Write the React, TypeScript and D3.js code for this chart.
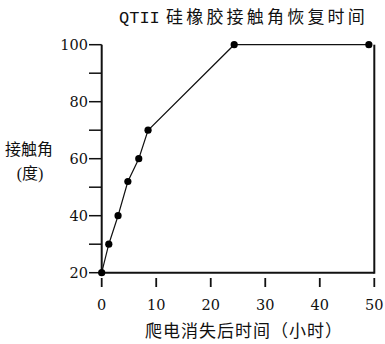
import React from "react";
import * as d3 from "d3";

const hours = [0, 1.3, 3, 4.8, 6.8, 8.5, 24.3, 49];
const angles = [20, 30, 40, 52, 60, 70, 100, 100];
const xTicks = [0, 10, 20, 30, 40, 50];
const yTicks = [20, 30, 40, 50, 60, 70, 80, 90, 100];
const yLabels = [20, 40, 60, 80, 100];
const titleLatin = "QTII ";
const titleCjk = "硅橡胶接触角恢复时间";
const xTitle = "爬电消失后时间（小时）";
const yTitle1 = "接触角";
const yTitle2 = "(度)";

export default function App() {
  const x = d3.scaleLinear().domain([0, 50]).range([101.7, 374.3]);
  const y = d3.scaleLinear().domain([20, 100]).range([272.7, 44.7]);
  const line = d3
    .line<number>()
    .x((_, i) => x(hours[i]))
    .y((d) => y(d));
  const tickFont = "'DejaVu Serif', serif";
  const cjkFont = "'Liberation Serif', 'Noto Sans CJK SC', sans-serif";
  return (
    <svg
      width={385}
      height={344}
      style={{ position: "absolute", left: 0, top: 0, background: "#fff" }}
    >
      <rect x={0} y={0} width={385} height={344} fill="#fff" />
      <text x={119} y={23} fill="#111">
        <tspan fontFamily="'Liberation Mono', monospace" fontSize={17}>
          {titleLatin}
        </tspan>
        <tspan
          fontFamily="'Noto Sans CJK SC', sans-serif"
          fontSize={17}
          letterSpacing={3.2}
          x={166}
        >
          {titleCjk}
        </tspan>
      </text>
      {/* frame */}
      <line x1={x(0)} x2={x(0)} y1={y(100)} y2={y(20)} stroke="#111" strokeWidth={2} />
      <line x1={x(0)} x2={x(50)} y1={y(20)} y2={y(20)} stroke="#111" strokeWidth={2} />
      <line x1={x(50)} x2={x(50)} y1={y(100)} y2={y(20) + 1} stroke="#111" strokeWidth={2} />
      {yTicks.map((t) => (
        <line key={t} x1={89} x2={x(0)} y1={y(t)} y2={y(t)} stroke="#111" strokeWidth={1.5} />
      ))}
      {yLabels.map((t) => (
        <text
          key={t}
          x={88}
          y={y(t)}
          dy="0.36em"
          textAnchor="end"
          fontFamily={tickFont}
          fontSize={14.5}
          fill="#111"
        >
          {t}
        </text>
      ))}
      {xTicks.map((t) => (
        <g key={t}>
          <line x1={x(t)} x2={x(t)} y1={278} y2={287} stroke="#111" strokeWidth={1.8} />
          <text
            x={x(t)}
            y={310}
            textAnchor="middle"
            fontFamily={tickFont}
            fontSize={14.5}
            fill="#111"
          >
            {t}
          </text>
        </g>
      ))}
      <path d={line(angles) || ""} fill="none" stroke="#111" strokeWidth={1.2} />
      {angles.map((a, i) => (
        <circle key={i} cx={x(hours[i])} cy={y(a)} r={3.6} fill="#000" />
      ))}
      <text
        x={145}
        y={337}
        fontFamily="'Noto Sans CJK SC', sans-serif"
        fontSize={17}
        letterSpacing={1}
        fill="#111"
      >
        {xTitle}
      </text>
      <text x={29} y={154.5} textAnchor="middle" fontFamily="'Noto Sans CJK SC', sans-serif" fontSize={16} fill="#111">
        {yTitle1}
      </text>
      <text x={30} y={178.5} textAnchor="middle" fontFamily={cjkFont} fontSize={16} fill="#111">
        {yTitle2}
      </text>
    </svg>
  );
}
